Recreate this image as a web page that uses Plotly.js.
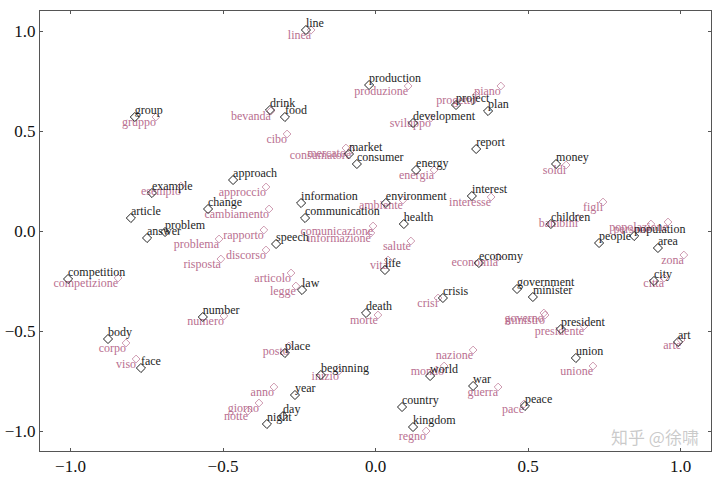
<!DOCTYPE html>
<html><head><meta charset="utf-8">
<script src="https://cdn.plot.ly/plotly-3.0.1.min.js"></script>
<style>html,body{margin:0;padding:0;background:#fff}#chart{width:720px;height:479px}</style>
</head><body><div id="chart"></div>
<script>
const enWords = ["line","production","group","drink","food","development","plan","project","report","money",
 "market","consumer","energy","approach","example","change","article","problem","answer","competition",
 "information","communication","environment","interest","health","speech","life","economy","children","population",
 "people","area","city","government","minister","president","crisis","death","law","number",
 "body","face","place","beginning","year","day","night","world","war","country",
 "kingdom","peace","union","art"];
const enX = [-0.228,-0.021,-0.789,-0.346,-0.297,0.123,0.369,0.264,0.330,0.592,
 -0.087,-0.061,0.133,-0.467,-0.733,-0.549,-0.802,-0.690,-0.749,-1.008,
 -0.244,-0.231,0.034,0.316,0.093,-0.326,0.031,0.339,0.575,0.848,
 0.733,0.926,0.913,0.464,0.516,0.608,0.221,-0.031,-0.241,-0.566,
 -0.877,-0.769,-0.297,-0.179,-0.264,-0.303,-0.356,0.179,0.320,0.087,
 0.123,0.490,0.657,0.992];
const enY = [1.005,0.730,0.570,0.605,0.570,0.540,0.600,0.630,0.410,0.335,
 0.385,0.335,0.305,0.255,0.190,0.110,0.065,-0.005,-0.035,-0.240,
 0.140,0.065,0.140,0.175,0.035,-0.065,-0.195,-0.160,0.035,-0.025,
 -0.060,-0.085,-0.250,-0.290,-0.330,-0.490,-0.335,-0.410,-0.295,-0.430,
 -0.540,-0.685,-0.610,-0.720,-0.820,-0.925,-0.965,-0.725,-0.775,-0.880,
 -0.980,-0.875,-0.635,-0.555];

const itWords = ["linea","produzione","gruppo","bevanda","cibo","sviluppo","progetto","piano","soldi","consumatore",
 "mercato","energia","approccio","esempio","cambiamento","problema","risposta","rapporto","discorso","competizione",
 "ambiente","interesse","comunicazione","informazione","salute","vita","economia","bambini","figli","popolazione",
 "persone","zona","città","governo","ministro","presidente","crisi","morte","articolo","legge",
 "numero","corpo","viso","posto","inizio","anno","giorno","notte","nazione","mondo",
 "guerra","regno","pace","unione","arte"];
const itX = [-0.211,0.107,-0.720,-0.343,-0.290,0.182,0.330,0.411,0.625,-0.080,
 -0.097,0.192,-0.359,-0.638,-0.349,-0.513,-0.507,-0.366,-0.359,-0.844,
 0.090,0.379,-0.008,-0.015,0.116,0.041,0.402,0.664,0.746,0.959,
 0.903,1.011,0.946,0.552,0.556,0.684,0.205,0.008,-0.277,-0.261,
 -0.497,-0.818,-0.785,-0.284,-0.120,-0.333,-0.382,-0.418,0.320,0.225,
 0.402,0.166,0.487,0.713,1.002];
const itY = [1.005,0.725,0.570,0.600,0.485,0.565,0.680,0.725,0.330,0.405,
 0.415,0.305,0.220,0.225,0.110,-0.040,-0.140,0.005,-0.095,-0.235,
 0.155,0.170,0.025,-0.010,-0.050,-0.145,-0.130,0.065,0.145,0.045,
 0.035,-0.120,-0.235,-0.410,-0.420,-0.475,-0.335,-0.420,-0.210,-0.275,
 -0.425,-0.560,-0.640,-0.575,-0.700,-0.780,-0.860,-0.900,-0.595,-0.675,
 -0.780,-1.000,-0.865,-0.675,-0.545];

const xTicks = [-1.0,-0.5,0.0,0.5,1.0];
const yTicks = [-1.0,-0.5,0.0,0.5,1.0];
const fmt = v => (v<0?"\u2212":"") + Math.abs(v).toFixed(1);

const serif = "Liberation Serif, DejaVu Serif, serif";
const pink = "#b96f90";

const traces = [
 {type:"scatter", mode:"markers", x:itX, y:itY, cliponaxis:false,
  marker:{symbol:"diamond-open", size:6, color:"rgba(190,120,150,0.75)", line:{width:1}}, hoverinfo:"skip"},
 {type:"scatter", mode:"text", x:itX, y:itY, text:itWords,
  textposition:"bottom left", cliponaxis:false,
  textfont:{family:serif, size:12, color:pink}, hoverinfo:"text"},
 {type:"scatter", mode:"markers", x:enX, y:enY, cliponaxis:false,
  marker:{symbol:"diamond-open", size:7, color:"#222", line:{width:1}}, hoverinfo:"skip"},
 {type:"scatter", mode:"text", x:enX, y:enY, text:enWords,
  textposition:"top right", cliponaxis:false,
  textfont:{family:serif, size:12, color:"#1e1e1e"}, hoverinfo:"text"}
];

const axisBase = {showgrid:false, zeroline:false, showline:true, linecolor:"#555", linewidth:1,
  mirror:"ticks", ticks:"inside", ticklen:3, tickcolor:"#555",
  tickfont:{family:serif, size:17, color:"#111"}};

const layout = {
  width:720, height:479,
  margin:{l:40, r:9, t:11, b:28},
  paper_bgcolor:"#fff", plot_bgcolor:"#fff",
  showlegend:false,
  xaxis:Object.assign({}, axisBase, {range:[-1.1,1.1], tickvals:xTicks, ticktext:xTicks.map(fmt)}),
  yaxis:Object.assign({}, axisBase, {range:[-1.1,1.1], tickvals:yTicks, ticktext:yTicks.map(fmt)}),
  annotations:[{text:"知乎 @徐啸", xref:"paper", yref:"paper", x:0.985, y:0.0, xanchor:"right", yanchor:"bottom",
    showarrow:false, font:{family:"Noto Sans CJK SC", size:17, color:"rgba(150,150,150,0.5)"}}]
};

Plotly.newPlot("chart", traces, layout, {displayModeBar:false, staticPlot:true});
</script>
</body></html>
